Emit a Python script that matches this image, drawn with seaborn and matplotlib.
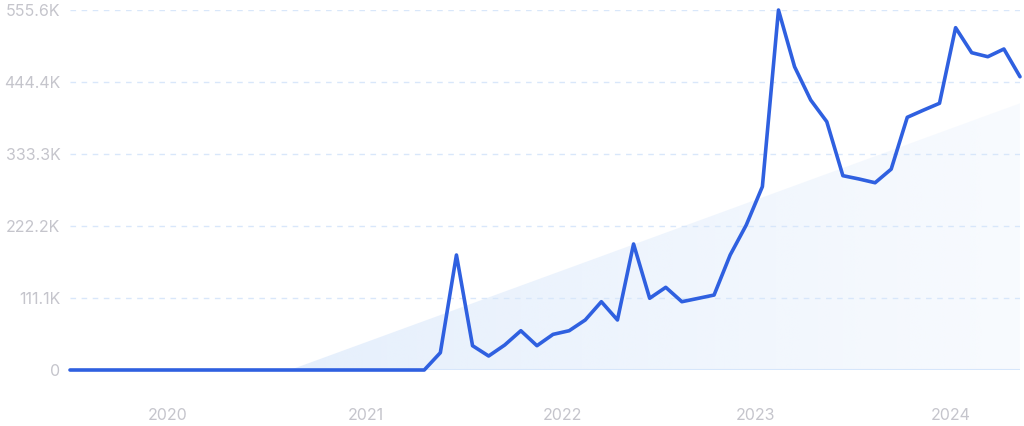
import numpy as np
import pandas as pd
import matplotlib
matplotlib.use("Agg")
import matplotlib.pyplot as plt
from matplotlib.patches import Polygon
import seaborn as sns

# ---- data (values in thousands) ----
month_index = list(range(60))
volume_k = [0]*23 + [26.7, 177.5, 37.5, 21.6, 38.6, 60.6, 37.5, 55.0, 60.6, 77.2,
                     105.4, 77.2, 194.5, 110.7, 127.6, 105.4, 110.5, 115.7, 177.5,
                     223.8, 283.0, 555.6, 468.0, 416.7, 383.2, 299.9, 294.8, 289.0,
                     310.0, 390.0, 401.0, 411.6, 528.3, 489.7, 483.5, 495.4, 452.6]
trend_x = [13.66, 59]
trend_k = [0, 411.6]
year_labels = ["2020", "2021", "2022", "2023", "2024"]
year_pos = [6.09, 18.4, 30.56, 42.6, 54.7]
y_ticks = [0, 111.1, 222.2, 333.3, 444.4, 555.6]
y_labels = ["0", "111.1K", "222.2K", "333.3K", "444.4K", "555.6K"]

df = pd.DataFrame({"month": month_index, "volume": volume_k})

sns.set_theme(style="white")
plt.rcParams["font.family"] = ["Inter", "DejaVu Sans"]

W, H = 1024, 426
fig = plt.figure(figsize=(W/100, H/100), dpi=100)
ax = fig.add_axes([70/W, (H-370)/H, 950/W, 360/H])

xmin, xmax = 0, 59
ymin, ymax = 0, 555.6
ax.set_xlim(xmin, xmax)
ax.set_ylim(ymin, ymax)

# gradient trend fill
grad = np.zeros((2, 256, 4))
base = matplotlib.colors.to_rgb("#d8e7fb")
grad[..., 0], grad[..., 1], grad[..., 2] = base
alpha = np.linspace(0.65, 0.18, 256)
grad[..., 3] = alpha[None, :]
img = ax.imshow(grad, extent=[trend_x[0], xmax, ymin, ymax], aspect="auto",
                origin="lower", zorder=1, interpolation="bilinear")
poly = Polygon([(trend_x[0], trend_k[0]), (trend_x[1], trend_k[1]), (trend_x[1], 0)],
               closed=True, transform=ax.transData, facecolor="none", edgecolor="none")
ax.add_patch(poly)
img.set_clip_path(poly)

# gridlines
for yv in y_ticks[1:]:
    ax.axhline(yv, color="#d9e7fa", lw=1.0, ls=(0, (4, 4)), zorder=0.5)
ax.axhline(0, color="#d6e6fb", lw=1.5, zorder=0.6)

sns.lineplot(data=df, x="month", y="volume", ax=ax, color="#2f60e0", lw=2.6,
             zorder=5, clip_on=False)

for s in ax.spines.values():
    s.set_visible(False)
ax.set_xlabel("")
ax.set_ylabel("")
ax.set_yticks(y_ticks)
ax.set_yticklabels(y_labels)
ax.set_xticks(year_pos)
ax.set_xticklabels(year_labels)
ax.tick_params(axis="both", length=0, colors="#c5c5cc", labelsize=11.5)
ax.tick_params(axis="y", pad=7)
ax.tick_params(axis="x", pad=27)
ax.grid(False)

fig.savefig("out.png", dpi=100)
